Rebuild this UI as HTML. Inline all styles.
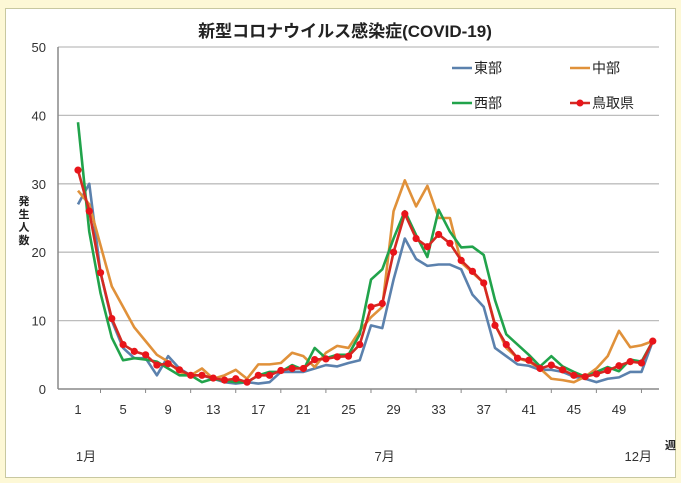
<!DOCTYPE html>
<html><head><meta charset="utf-8"><style>
html,body{margin:0;padding:0;background:#fdf8d6;}
body{width:681px;height:483px;position:relative;overflow:hidden;font-family:"Liberation Sans","Noto Sans CJK JP",sans-serif;}
#frame{position:absolute;left:5px;top:8px;width:669px;height:468px;background:#fff;border:1px solid #c8c8a0;}
</style></head><body>
<div id="frame"></div>
<svg id="chart" width="681" height="483" style="position:absolute;left:0;top:0" font-family="Liberation Sans, Noto Sans CJK JP, sans-serif">
<text x="345" y="37" text-anchor="middle" font-size="17" font-weight="bold" fill="#222">新型コロナウイルス感染症(COVID-19)</text>
<g id="grid"></g><g id="axes"></g><g id="series"></g>
<g font-size="11" font-weight="bold" fill="#222">
<text x="24" y="205" text-anchor="middle">発</text><text x="24" y="218" text-anchor="middle">生</text><text x="24" y="231" text-anchor="middle">人</text><text x="24" y="244" text-anchor="middle">数</text></g>
<text x="665" y="449" font-size="11" font-weight="bold" fill="#222">週</text>
<g id="legend"></g>
</svg>
<script>
const weeks=[];for(let i=1;i<=52;i++)weeks.push(i);
const tohbu=[27,30,17,10,6,4.5,4.5,2,4.8,3,2,2,1.5,1,0.8,1,0.8,1,2.5,2.5,2.5,3,3.5,3.3,3.8,4.2,9.3,8.9,16,22,19,18,18.2,18.2,17.5,13.8,12,6,4.8,3.6,3.4,2.8,2.8,2.5,1.8,1.5,1,1.5,1.7,2.5,2.5,7];
const chubu=[29,27,21,15,12,9,7,5,4,2.5,2,3,1.5,2,2.8,1.5,3.6,3.6,3.8,5.3,4.8,3.2,5.3,6.3,6,8.5,10.5,12,26,30.5,26.7,29.7,25,25,18.5,17,15.5,9.5,6,4.5,4,3,1.5,1.3,1,1.8,3,4.8,8.5,6.1,6.4,7];
const seibu=[39,23,14,7.5,4.2,4.5,4.3,4,3,2,2,1,1.5,1.2,1,1,2,2.5,2.5,3.5,2.8,6,4.5,5,5,8,16,17.5,22,26,22.5,19.3,26.2,23,20.7,20.8,19.6,13,8,6.5,5,3.3,4.8,3.3,2.5,1.8,2.5,3.2,2.6,4.3,4,7];
const tottori=[32,26,17,10.3,6.5,5.5,5,3.5,3.7,2.8,2,2,1.6,1.3,1.5,1,2,2,2.7,3,3,4.3,4.4,4.7,4.8,6.5,12,12.5,20,25.6,22,20.8,22.6,21.3,18.8,17.2,15.5,9.3,6.5,4.5,4.2,3,3.5,2.8,2,1.8,2.2,2.7,3.4,4,3.8,7];
const yTicks=[0,10,20,30,40,50];
const xTickLabels=[1,5,9,13,17,21,25,29,33,37,41,45,49];
const monthLabels=[["1月",1],["7月",27.5],["12月",50]];
const NS="http://www.w3.org/2000/svg";
const X=w=>78+(w-1)*11.27, Y=v=>389-v*6.84;
function mk(tag,parent,attrs){const e=document.createElementNS(NS,tag);for(const k in attrs)e.setAttribute(k,attrs[k]);parent.appendChild(e);return e;}
const grid=document.getElementById('grid'),axes=document.getElementById('axes');
yTicks.forEach(t=>{
 if(t>0){const l=mk('line',grid,{x1:58,x2:659,y1:Y(t),y2:Y(t),stroke:'#bdbdbd','stroke-width':1.3});
 
 }
 const tx=mk('text',axes,{x:46,y:Y(t)+5,'text-anchor':'end','font-size':13,fill:'#333'});tx.textContent=t;
 
 
});
const ya=mk('line',axes,{x1:58,x2:58,y1:Y(50),y2:Y(0),stroke:'#888','stroke-width':1.5});


const xa=mk('line',axes,{x1:58,x2:659,y1:Y(0),y2:Y(0),stroke:'#888','stroke-width':1.5});


xTickLabels.forEach(w=>{
 mk('line',axes,{x1:X(w)+22.5,x2:X(w)+22.5,y1:389,y2:393,stroke:'#888'});
 const tx=mk('text',axes,{x:X(w),y:414,'text-anchor':'middle','font-size':13,fill:'#333'});tx.textContent=w;
 
 
});
monthLabels.forEach(m=>{const tx=mk('text',axes,{x:X(m[1])+8,y:461,'text-anchor':'middle','font-size':13,fill:'#333'});tx.textContent=m[0];
 
 });
const ser=document.getElementById('series');
const defs=[["tohbu",tohbu,"#5b81ad","東部"],["chubu",chubu,"#e0913a","中部"],["seibu",seibu,"#21a34b","西部"],["tottori",tottori,"#d42a22","鳥取県"]];
defs.forEach(d=>{
 const p=mk('polyline',ser,{points:d[1].map((v,i)=>X(weeks[i])+','+Y(v)).join(' '),fill:'none',stroke:d[2],'stroke-width':2.6,'stroke-linejoin':'round'});
 
 
});
tottori.forEach((v,i)=>{const c=mk('circle',ser,{cx:X(weeks[i]),cy:Y(v),r:3.6,fill:'#e8141a'});
 
 });
const lg=document.getElementById('legend');
const pos=[[452,68],[570,68],[452,103],[570,103]];
defs.forEach((d,i)=>{const g=mk('g',lg,{});
 
 
 const [x,y]=pos[i];
 mk('line',g,{x1:x,x2:x+20,y1:y,y2:y,stroke:d[2],'stroke-width':2.6});
 if(i==3)mk('circle',g,{cx:x+10,cy:y,r:3.5,fill:'#e8141a'});
 const t=mk('text',g,{x:x+22,y:y+5,'font-size':14,fill:'#222'});t.textContent=d[3];});
</script>
</body></html>
